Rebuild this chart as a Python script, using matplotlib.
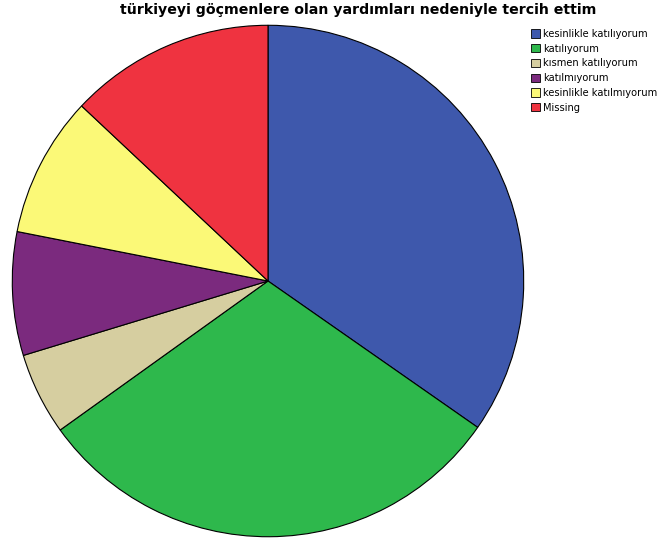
import matplotlib.pyplot as plt
from matplotlib.patches import Patch

labels = ['kesinlikle katılıyorum', 'katılıyorum', 'kısmen katılıyorum',
          'katılmıyorum', 'kesinlikle katılmıyorum', 'Missing']
values = [34.7, 30.4, 5.2, 7.8, 8.9, 13.0]
colors = ['#3e58ac', '#2eb84c', '#d6cea0', '#7b2a7e', '#fbf977', '#ef3340']

fig = plt.figure(figsize=(6.6, 5.44), dpi=100)
ax = fig.add_axes([11 / 660, 6 / 544, 514 / 660, 514 / 544])
ax.pie(values, colors=colors, startangle=90, counterclock=False,
       wedgeprops=dict(edgecolor='black', linewidth=0.8))
ax.set_xlim(-1.005, 1.005)
ax.set_ylim(-1.005, 1.005)
ax.set_aspect('equal')
ax.axis('off')

fig.text(358 / 660, 1 - 10 / 544, 'türkiyeyi göçmenlere olan yardımları nedeniyle tercih ettim',
         ha='center', va='center', fontsize=10.2, fontweight='bold')

handles = [Patch(facecolor=c, edgecolor='black', linewidth=0.6) for c in colors]
fig.legend(handles, labels, loc='upper left', bbox_to_anchor=(524 / 660, 1 - 22 / 544),
           frameon=False, fontsize=7.1, handlelength=0.9, handleheight=0.9,
           handletextpad=0.3, labelspacing=0.48, borderpad=0.2)

fig.savefig('out.png', dpi=100)
